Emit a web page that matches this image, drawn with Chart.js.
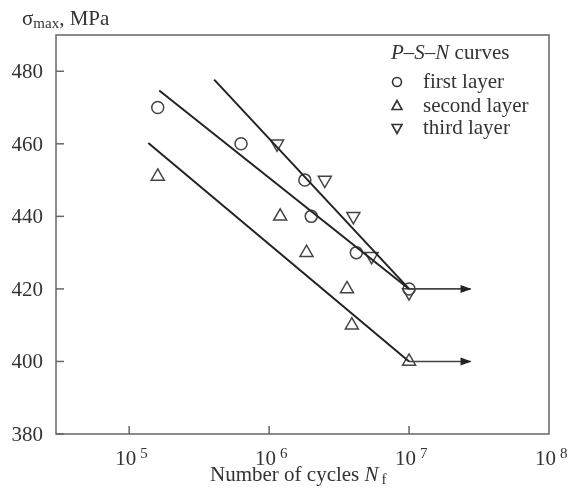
<!DOCTYPE html>
<html>
<head>
<meta charset="utf-8">
<script src="https://cdn.jsdelivr.net/npm/chart.js"></script>
<style>
  body { margin: 0; background: #fff; }
</style>
</head>
<body>
<canvas id="chart" width="573" height="493"></canvas>
<script>
const firstX = [1.6e5, 6.3e5, 1.8e6, 2.0e6, 4.2e6, 1.0e7];
const firstY = [470, 460, 450, 440, 430, 420];
const secondX = [1.6e5, 1.2e6, 1.85e6, 3.6e6, 3.9e6, 1.0e7];
const secondY = [451, 440, 430, 420, 410, 400];
const thirdX = [1.14e6, 2.5e6, 4.0e6, 5.4e6, 1.0e7];
const thirdY = [460, 450, 440, 429, 419];

// P-S-N fit lines
const fitFirstX = [1.64e5, 1.0e7];
const fitFirstY = [474.7, 420];
const fitSecondX = [1.37e5, 1.0e7];
const fitSecondY = [460.2, 400];
const fitThirdX = [4.05e5, 1.0e7];
const fitThirdY = [477.7, 420];

// run-out arrows
const arrowX = [1.0e7, 2.75e7];
const arrowUpperY = [420, 420];
const arrowLowerY = [400, 400];

const yTicks = [380, 400, 420, 440, 460, 480];
const xTicks = [1e5, 1e6, 1e7, 1e8];
const xExponents = ['5', '6', '7', '8'];

const legendItems = ['first layer', 'second layer', 'third layer'];

const FONT = '"Liberation Serif", "DejaVu Serif", serif';
const TEXT = '#333';
const AXIS = '#666';
const BIG = '21px ';
const SMALL = '15px ';

const pts = (xs, ys) => xs.map((x, i) => ({ x, y: ys[i] }));

const markerDs = (data, style, rot) => ({
  data,
  showLine: false,
  pointStyle: style,
  pointRotation: rot,
  pointRadius: style === 'circle' ? 6 : 7.5,
  borderColor: '#444',
  borderWidth: 1.5,
  backgroundColor: 'rgba(0,0,0,0)'
});

const lineDs = (data, arrow) => ({
  data,
  showLine: true,
  pointRadius: 0,
  borderColor: arrow ? '#444' : '#222',
  borderWidth: arrow ? 1.6 : 2,
  arrow: !!arrow
});

// draws the frame, inward ticks, labels, legend and arrow heads
const decorations = {
  id: 'decorations',
  afterDraw(chart) {
    const { ctx, chartArea: a, scales: { x, y } } = chart;
    ctx.save();

    ctx.strokeStyle = AXIS;
    ctx.lineWidth = 1.5;
    ctx.strokeRect(a.left, a.top, a.right - a.left, a.bottom - a.top);

    ctx.fillStyle = TEXT;
    ctx.textBaseline = 'alphabetic';

    // y ticks + labels
    ctx.font = BIG + FONT;
    ctx.textAlign = 'right';
    yTicks.forEach(v => {
      const py = y.getPixelForValue(v);
      ctx.beginPath();
      ctx.moveTo(a.left, py);
      ctx.lineTo(a.left + 8, py);
      ctx.stroke();
      ctx.fillText(String(v), a.left - 13, py + 7);
    });

    // x ticks + labels
    xTicks.forEach((v, i) => {
      const px = x.getPixelForValue(v);
      if (i < xTicks.length - 1) {
        ctx.beginPath();
        ctx.moveTo(px, a.bottom);
        ctx.lineTo(px, a.bottom - 8);
        ctx.stroke();
      }
      ctx.font = BIG + FONT;
      ctx.textAlign = 'right';
      ctx.fillText('10', px + 7, 465);
      ctx.font = SMALL + FONT;
      ctx.textAlign = 'left';
      ctx.fillText(xExponents[i], px + 11, 458);
    });

    // x axis title
    ctx.textAlign = 'left';
    let tx = 210;
    ctx.font = BIG + FONT;
    ctx.fillText('Number of cycles ', tx, 481);
    tx += ctx.measureText('Number of cycles ').width;
    ctx.font = 'italic ' + BIG + FONT;
    ctx.fillText('N', tx, 481);
    tx += ctx.measureText('N').width + 3;
    ctx.font = SMALL + FONT;
    ctx.fillText('f', tx, 484);

    // y axis title
    tx = 22;
    ctx.font = BIG + FONT;
    ctx.fillText('σ', tx, 25);
    tx += ctx.measureText('σ').width;
    ctx.font = SMALL + FONT;
    ctx.fillText('max', tx, 28);
    tx += ctx.measureText('max').width;
    ctx.font = BIG + FONT;
    ctx.fillText(', MPa', tx, 25);

    // legend header
    tx = 391;
    const parts = [['P', true], ['–', false], ['S', true], ['–', false], ['N', true], [' curves', false]];
    parts.forEach(([s, it]) => {
      ctx.font = (it ? 'italic ' : '') + BIG + FONT;
      ctx.fillText(s, tx, 59);
      tx += ctx.measureText(s).width;
    });

    // legend entries
    const rowY = [82, 106, 128];
    ctx.font = BIG + FONT;
    ctx.strokeStyle = '#333';
    ctx.lineWidth = 1.6;
    legendItems.forEach((label, i) => {
      const cy = rowY[i];
      const cx = 397;
      ctx.beginPath();
      if (i === 0) {
        ctx.arc(cx, cy, 4.5, 0, Math.PI * 2);
      } else if (i === 1) {
        ctx.moveTo(cx, cy - 5.5);
        ctx.lineTo(cx + 5, cy + 3.5);
        ctx.lineTo(cx - 5, cy + 3.5);
        ctx.closePath();
      } else {
        ctx.moveTo(cx, cy + 5.5);
        ctx.lineTo(cx + 5, cy - 3.5);
        ctx.lineTo(cx - 5, cy - 3.5);
        ctx.closePath();
      }
      ctx.stroke();
      ctx.fillText(label, 423, cy + 6);
    });

    // arrow heads at the end of run-out lines
    ctx.fillStyle = '#222';
    chart.data.datasets.forEach(ds => {
      if (!ds.arrow) return;
      const end = ds.data[ds.data.length - 1];
      const px = x.getPixelForValue(end.x);
      const py = y.getPixelForValue(end.y);
      ctx.beginPath();
      ctx.moveTo(px + 1, py);
      ctx.lineTo(px - 10, py - 4);
      ctx.lineTo(px - 10, py + 4);
      ctx.closePath();
      ctx.fill();
    });

    ctx.restore();
  }
};

new Chart(document.getElementById('chart'), {
  type: 'scatter',
  data: {
    datasets: [
      lineDs(pts(fitFirstX, fitFirstY)),
      lineDs(pts(fitSecondX, fitSecondY)),
      lineDs(pts(fitThirdX, fitThirdY)),
      lineDs(pts(arrowX, arrowUpperY), true),
      lineDs(pts(arrowX, arrowLowerY), true),
      markerDs(pts(firstX, firstY), 'circle', 0),
      markerDs(pts(secondX, secondY), 'triangle', 0),
      markerDs(pts(thirdX, thirdY), 'triangle', 180)
    ]
  },
  options: {
    responsive: false,
    animation: false,
    layout: { padding: { left: 56, top: 35, right: 24, bottom: 59 } },
    plugins: {
      legend: { display: false },
      tooltip: { enabled: false }
    },
    scales: {
      x: {
        type: 'logarithmic',
        min: 3e4,
        max: 1e8,
        ticks: { display: false },
        grid: { display: false, drawTicks: false },
        border: { display: false }
      },
      y: {
        min: 380,
        max: 490,
        ticks: { display: false },
        grid: { display: false, drawTicks: false },
        border: { display: false }
      }
    }
  },
  plugins: [decorations]
});
</script>
</body>
</html>
